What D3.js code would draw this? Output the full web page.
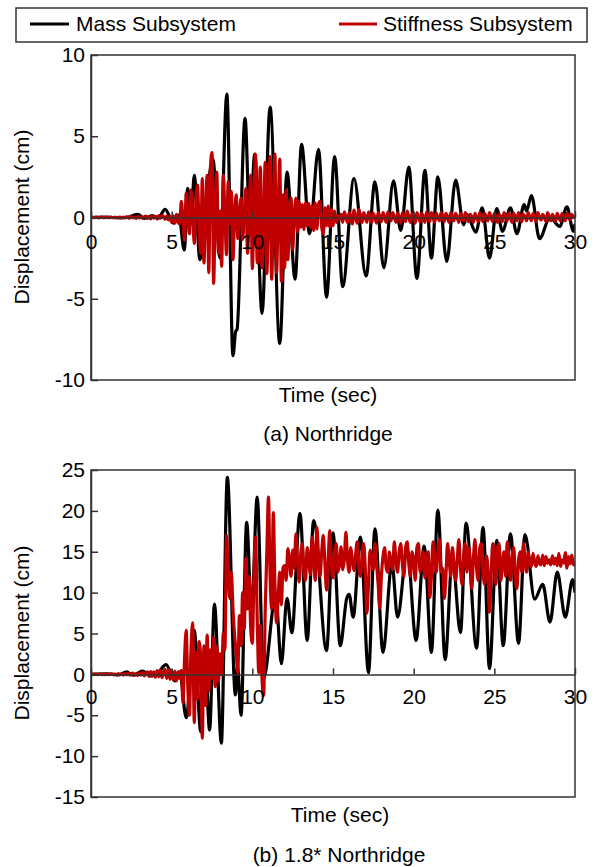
<!DOCTYPE html>
<html>
<head>
<meta charset="utf-8">
<script src="https://cdn.jsdelivr.net/npm/d3@7"></script>
<style>
  body { margin: 0; background: #fff; }
  svg { display: block; }
  text { font-family: "Liberation Sans", Arial, sans-serif; }
</style>
</head>
<body>
<svg id="chart" width="594" height="867"></svg>
<script>
// ---- data ----
const seriesNames = ["Mass Subsystem", "Stiffness Subsystem"];
const seriesColors = ["#000000", "#c00000"];
const panelTitles = ["(a) Northridge", "(b) 1.8* Northridge"];
const timeTicks = [0, 5, 10, 15, 20, 25, 30];
const dispTicksA = [-10, -5, 0, 5, 10];
const dispTicksB = [-15, -10, -5, 0, 5, 10, 15, 20, 25];

// Mass subsystem response, (time s, displacement cm) at turning points
const massA = [
  [0,0],[1.0,0.03],[1.8,-0.03],[2.4,0.05],[2.9,0.2],[3.3,-0.05],[3.8,0.12],[4.15,-0.05],
  [4.6,0.5],[5.1,-0.35],[5.45,0.15],[5.78,-2.0],[6.0,1.8],[6.2,-0.4],[6.4,2.6],[6.75,-2.6],
  [7.55,3.6],[8.0,-2.5],[8.42,7.6],[8.8,-8.5],[8.97,-7.0],[9.05,-6.9],[9.55,6.1],[9.85,-0.6],
  [10.15,3.9],[10.6,-5.9],[11.1,6.8],[11.7,-7.75],[12.15,2.8],[12.65,-3.8],[13.05,4.5],
  [13.55,-1.0],[14.1,4.2],[14.6,-4.9],[15.1,3.75],[15.6,-4.25],[16.3,2.4],[17.05,-3.6],
  [17.6,2.2],[18.15,-3.1],[18.75,2.25],[19.2,-0.8],[19.7,3.1],[20.2,-3.75],[20.7,2.9],
  [21.1,-2.5],[21.5,2.5],[22.05,-2.7],[22.6,2.3],[23.1,-0.45],[23.3,0.2],[23.85,-0.9],
  [24.25,0.6],[24.7,-2.5],[25.15,0.55],[25.5,-0.85],[26.0,0.6],[26.4,-1.0],[26.85,0.8],
  [27.0,0.4],[27.3,1.35],[27.8,-1.3],[28.45,0.0],[29.05,-0.55],[29.5,0.65],[29.9,-0.85],[30,-0.4]
];

// Stiffness subsystem response, sampled every 0.1 s from 0 to 30 s
const stiffStep = 0.1;
const stiffA = [
  0,0.01,-0.01,0.02,0,-0.02,0.01,0.02,-0.01,0,
  0.01,-0.02,0.02,0,-0.01,0.02,-0.02,0.01,0.03,-0.01,
  0.02,-0.03,0.04,0,-0.04,0.05,-0.02,0.03,-0.05,0.04,
  -0.03,0.06,-0.05,0.04,0.08,-0.06,0.05,-0.08,0.1,-0.04,
  0.07,-0.1,0.12,-0.06,0.15,0.05,-0.12,0.1,-0.15,0.08,
  -0.3,0.1,-0.35,0.2,-0.3,-0.4,1.0,-0.2,-1.4,1.5,
  0.2,-1.0,1.7,0.4,-1.6,0.9,2.0,-0.5,-2.2,2.4,
  -2.8,0.3,2.6,-3.4,3.0,4.0,-4.05,0.5,2.8,-2.2,
  0.4,-3.0,2.6,0.2,-2.3,2.2,-0.4,1.6,-2.6,0.2,
  1.4,-1.3,0.2,1.2,-1.35,0.3,1.8,-2.2,0.0,2.6,
  -3.15,0.5,3.9,-2.8,0.2,3.1,-3.1,-0.3,3.4,-3.45,
  0.4,3.75,-3.8,0.5,3.9,-3.4,0.2,3.6,-3.95,1.4,
  -3.1,1.7,-2.6,0.2,1.2,-2.0,0.1,1.2,-0.9,1.0,
  -0.6,0.8,-0.75,0.9,-0.5,0.85,-0.6,0.7,-0.8,0.9,
  -0.7,0.8,1.0,-0.6,-1.0,0.6,-0.5,0.7,-0.6,0.5,
  -0.5,0.4,-0.3,0.1,-0.1,0.2,-0.3,0.35,0.0,-0.3,
  0.3,0.05,-0.4,0.45,0.0,-0.35,0.5,0.1,-0.3,0.3,
  0.0,-0.3,0.35,0.05,-0.3,0.25,0.0,-0.35,0.3,0.05,
  -0.25,0.3,0.0,-0.3,0.35,0.05,-0.2,0.3,0.0,-0.3,
  0.25,0.0,-0.35,0.3,0.05,-0.25,0.4,0.0,-0.3,0.25,
  0.0,-0.35,0.3,0.05,-0.25,0.25,0.0,-0.3,0.35,0.0,
  -0.25,0.3,0.05,-0.3,0.25,0.0,-0.2,0.3,0.0,-0.25,
  0.25,0.0,-0.3,0.3,0.05,-0.2,0.25,0.0,-0.3,0.25,
  0.0,-0.2,0.3,0.0,-0.25,0.2,0.05,-0.3,0.25,0.0,
  -0.25,0.3,0.0,-0.25,0.25,0.05,-0.2,0.3,0.0,-0.25,
  0.25,0.0,-0.3,0.2,0.05,-0.25,0.3,0.0,-0.2,0.25,
  0.0,-0.3,0.25,0.05,-0.2,0.3,0.0,-0.25,0.2,0.05,
  -0.2,0.3,0.0,-0.2,0.25,0.05,-0.25,0.3,0.0,-0.15,
  0.2,0.0,-0.25,0.3,0.05,-0.2,0.2,0.0,-0.25,0.25,
  0.0,-0.2,0.25,0.05,-0.2,0.25,0.0,-0.15,0.2,0.0,
  0.1
];

const massB = [
  [0,0],[1.0,0.05],[1.7,-0.05],[2.2,0.3],[2.6,-0.1],[3.2,0.4],[3.7,-0.2],[4.2,0.3],[4.65,1.2],
  [5.2,-0.8],[5.5,0.3],[5.9,-5.3],[6.4,5.4],[6.8,-7.0],[7.05,3.0],[7.35,-6.8],[7.65,8.6],
  [8.08,-8.4],[8.45,24.1],[8.95,-2.5],[9.08,1.0],[9.3,-5.0],[9.65,18.6],[9.95,7.5],[10.3,21.7],
  [10.7,-0.5],[11.45,9.6],[11.8,1.3],[12.15,9.3],[12.45,5.1],[12.95,19.7],[13.4,4.15],
  [13.8,18.8],[14.6,2.9],[15.0,17.3],[15.45,3.5],[15.85,9.3],[16.0,9.8],[16.25,7.0],
  [16.7,16.8],[17.2,0.2],[17.6,17.8],[18.1,2.7],[18.65,13.6],[19.0,7.0],[19.6,15.2],
  [20.15,4.15],[20.65,15.7],[21.1,2.7],[21.5,20.1],[21.95,1.8],[22.4,14.3],[22.9,5.1],
  [23.25,18.5],[23.9,3.2],[24.3,18.0],[24.7,0.7],[25.15,16.4],[25.55,3.5],[26.0,17.2],
  [26.5,3.8],[26.9,17.1],[27.5,9.2],[28.0,11.0],[28.45,6.4],[28.9,12.5],[29.4,7.0],
  [29.85,11.6],[30,10.0]
];

const stiffB = [
  0,0.02,-0.02,0.03,-0.03,0.02,0.04,-0.03,0.02,-0.02,
  0.05,-0.04,0.03,0.06,-0.05,0.04,-0.06,0.08,-0.04,0.06,
  -0.08,0.1,-0.05,0.12,-0.1,0.08,0.15,-0.12,0.1,-0.15,
  0.2,-0.1,0.25,-0.2,0.15,0.3,-0.25,0.35,-0.2,0.3,
  -0.35,0.45,-0.3,0.5,-0.4,0.35,0.6,-0.5,0.55,-0.6,
  0.5,-0.7,0.4,-0.8,0.3,-0.5,0.5,-3.5,2.0,5.4,
  -1.5,-5.0,3.0,6.3,-5.9,2.7,-3.0,4.0,2.0,-7.8,
  3.5,-3.8,4.8,-2.0,3.0,-0.5,4.5,-1.5,3.5,-0.8,
  2.5,0.0,5.0,3.0,17.0,13.0,9.3,12.5,8.0,4.8,
  2.7,0.2,7.2,3.5,10.0,5.6,14.2,8.0,12.0,5.6,
  3.8,12.0,16.8,7.0,0.2,6.0,-0.5,-2.6,8.0,15.0,
  21.7,12.0,8.0,19.8,11.0,6.3,9.5,12.5,8.5,13.0,
  13.3,11.5,15.4,14.0,12.0,15.2,13.0,17.2,14.0,11.3,
  14.8,16.0,12.5,11.5,15.5,14.0,12.2,16.8,14.5,11.5,
  18.0,14.5,12.0,15.0,17.0,13.5,10.3,14.0,17.6,13.5,
  11.8,14.5,16.0,12.5,13.5,15.6,12.8,14.0,17.4,14.0,
  12.5,15.5,14.0,12.7,14.6,16.2,13.0,12.0,14.5,16.0,
  13.0,7.5,11.0,15.2,14.0,12.8,16.0,13.5,11.0,8.1,
  12.0,14.5,15.5,13.0,12.5,15.0,13.5,12.8,16.2,14.0,
  12.5,15.0,16.0,13.5,12.0,15.5,16.2,13.5,12.0,15.0,
  14.0,11.5,15.5,16.0,12.5,13.5,15.0,11.8,14.0,15.0,
  9.4,12.0,16.2,14.0,12.5,15.0,16.5,12.5,13.0,9.3,
  12.0,16.0,14.0,12.0,15.5,13.5,11.5,14.0,16.5,13.0,
  11.0,14.5,16.0,12.5,15.5,14.0,10.5,14.0,16.5,13.0,
  11.5,15.5,16.0,12.5,11.0,14.5,13.0,7.6,12.0,16.0,
  14.0,11.0,15.5,16.0,11.5,13.5,15.0,12.0,16.2,14.0,
  11.5,14.5,15.5,12.0,10.5,14.0,15.0,12.5,16.0,14.0,
  12.5,15.0,13.5,13.2,14.8,13.6,13.2,14.5,13.6,13.4,
  14.6,13.3,14.4,13.6,14.0,13.4,14.5,13.5,14.2,13.3,
  14.8,13.2,14.0,13.6,14.9,13.0,14.4,13.5,14.6,13.4,
  13.8
];

// ---- drawing ----
const svg = d3.select("#chart");
const axisColor = "#333333";
const fontSize = 21;
const x = d3.scaleLinear().domain([0, 30]).range([91, 575]);
const plainNumber = d => String(d);   // ASCII hyphen for negatives

const toPairs = (vals, step) => vals.map((v, i) => [i * step, v]);

const lineGen = (y) => d3.line()
  .x(d => x(d[0]))
  .y(d => y(d[1]))
  .curve(d3.curveMonotoneX);

function drawPanel(cfg) {
  const y = d3.scaleLinear().domain(cfg.domain).range([cfg.bottom, cfg.top]);
  const g = svg.append("g");

  const clipId = "clip-" + cfg.id;
  svg.append("clipPath").attr("id", clipId)
    .append("rect")
    .attr("x", x(0)).attr("y", cfg.top - 2)
    .attr("width", x(30) - x(0)).attr("height", cfg.bottom - cfg.top + 4);

  // series
  const lines = g.append("g").attr("clip-path", `url(#${clipId})`);
  lines.append("path")
    .datum(cfg.mass)
    .attr("d", lineGen(y))
    .attr("fill", "none")
    .attr("stroke", seriesColors[0])
    .attr("stroke-width", 3.2)
    .attr("stroke-linejoin", "round");
  lines.append("path")
    .datum(toPairs(cfg.stiff, stiffStep))
    .attr("d", lineGen(y))
    .attr("fill", "none")
    .attr("stroke", seriesColors[1])
    .attr("stroke-width", 3.2)
    .attr("stroke-linejoin", "round");

  // frame
  g.append("rect")
    .attr("x", x(0)).attr("y", cfg.top)
    .attr("width", x(30) - x(0)).attr("height", cfg.bottom - cfg.top)
    .attr("fill", "none")
    .attr("stroke", axisColor)
    .attr("stroke-width", 1.5);

  // y axis
  const yAxis = g.append("g")
    .attr("transform", `translate(${x(0)},0)`)
    .call(d3.axisLeft(y).tickValues(cfg.ticks).tickFormat(plainNumber)
      .tickSizeInner(-7).tickSizeOuter(0).tickPadding(6));
  // x axis through zero
  const xAxis = g.append("g")
    .attr("transform", `translate(0,${y(0)})`)
    .call(d3.axisBottom(x).tickValues(timeTicks).tickFormat(plainNumber)
      .tickSizeInner(-6).tickSizeOuter(0).tickPadding(cfg.xPad));

  [yAxis, xAxis].forEach(a => {
    a.attr("font-size", null).attr("font-family", null);
    a.select(".domain").attr("stroke", axisColor).attr("stroke-width", 1.5);
    a.selectAll(".tick line").attr("stroke", axisColor).attr("stroke-width", 1.5);
    a.selectAll(".tick text").attr("fill", "#000").style("font-size", fontSize + "px");
  });

  // labels
  g.append("text")
    .attr("transform", `translate(29,${cfg.yLabelY}) rotate(-90)`)
    .attr("text-anchor", "middle")
    .style("font-size", fontSize + "px")
    .text("Displacement (cm)");
  g.append("text")
    .attr("x", cfg.xLabelX).attr("y", cfg.xLabelY)
    .attr("text-anchor", "middle")
    .style("font-size", fontSize + "px")
    .text("Time (sec)");
  g.append("text")
    .attr("x", cfg.titleX).attr("y", cfg.titleY)
    .attr("text-anchor", "middle")
    .style("font-size", fontSize + "px")
    .text(cfg.title);
}

drawPanel({
  id: "a", domain: [-10, 10], ticks: dispTicksA, top: 55, bottom: 380,
  mass: massA, stiff: stiffA, xPad: 17,
  yLabelY: 217, xLabelX: 328, xLabelY: 402, titleX: 328, titleY: 441, title: panelTitles[0]
});
drawPanel({
  id: "b", domain: [-15, 25], ticks: dispTicksB, top: 470, bottom: 797,
  mass: massB, stiff: stiffB, xPad: 15,
  yLabelY: 633, xLabelX: 340, xLabelY: 822, titleX: 339, titleY: 862, title: panelTitles[1]
});

// legend
const legend = svg.append("g");
legend.append("rect")
  .attr("x", 16).attr("y", 8).attr("width", 571).attr("height", 34)
  .attr("fill", "#fff").attr("stroke", axisColor).attr("stroke-width", 1.5);
const legendItems = [
  { x0: 30, x1: 69, tx: 76 },
  { x0: 339, x1: 377, tx: 383 }
];
legendItems.forEach((it, i) => {
  legend.append("line")
    .attr("x1", it.x0).attr("x2", it.x1).attr("y1", 24).attr("y2", 24)
    .attr("stroke", seriesColors[i]).attr("stroke-width", 3.2);
  legend.append("text")
    .attr("x", it.tx).attr("y", 31)
    .style("font-size", fontSize + "px")
    .text(seriesNames[i]);
});
</script>
</body>
</html>
